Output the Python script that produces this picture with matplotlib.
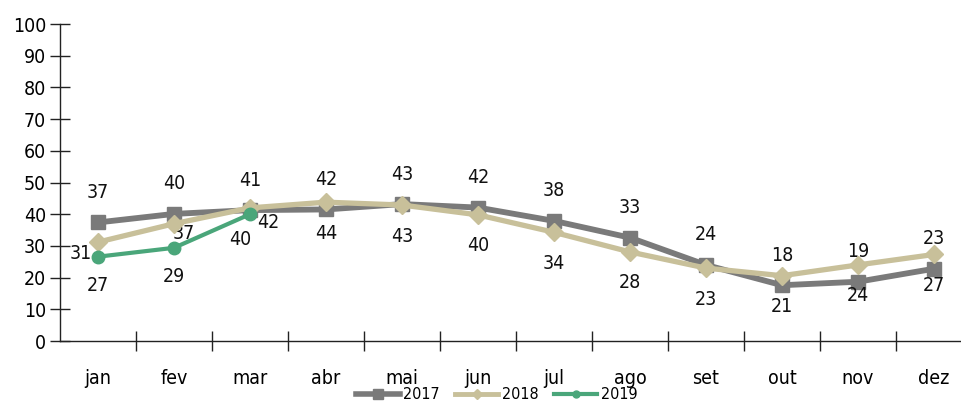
import matplotlib
matplotlib.use("Agg")
import matplotlib.pyplot as plt
from matplotlib.lines import Line2D

plt.rcParams['font.family'] = ['DejaVu Sans']
plt.rcParams['font.stretch'] = 'condensed'

months = ["jan", "fev", "mar", "abr", "mai", "jun", "jul", "ago", "set", "out", "nov", "dez"]
v2017 = [37.4, 40.1, 41.3, 41.5, 43.2, 42.1, 37.9, 32.6, 24.0, 17.6, 18.7, 22.8]
v2018 = [31.2, 37.0, 42.0, 43.8, 42.9, 39.8, 34.3, 28.1, 23.0, 20.6, 24.0, 27.3]
v2019 = [26.6, 29.4, 40.0]
yticks = list(range(0, 101, 10))

c17 = "#7a7a7a"
c18 = "#c8c09a"
c19 = "#4aa67a"

fig = plt.figure(figsize=(9.61, 4.03), dpi=100)
ax = fig.add_axes([0.0624, 0.1538, 0.949, 0.7866])

x17 = range(len(v2017))
x18 = range(len(v2018))
x19 = range(len(v2019))
ax.plot(x17, v2017, color=c17, lw=4.2, marker="s", ms=10.5, zorder=3)
ax.plot(x18, v2018, color=c18, lw=3.8, marker="D", ms=9, zorder=4)
ax.plot(x19, v2019, color=c19, lw=3, marker="o", ms=9, zorder=5)

fs = 14
for i, v in enumerate(v2017):
    ax.annotate(f"{round(v)}", (i, v), xytext=(0, 30), textcoords="offset pixels",
                ha="center", va="center", fontsize=fs, color="#111111")

off18 = {0: (-17, -11), 1: (10, -10), 2: (18, -15)}
for i, v in enumerate(v2018):
    dx, dy = off18.get(i, (0, -31))
    ax.annotate(f"{round(v)}", (i, v), xytext=(dx, dy), textcoords="offset pixels",
                ha="center", va="center", fontsize=fs, color="#111111")

off19 = {2: (-10, -25)}
for i, v in enumerate(v2019):
    dx, dy = off19.get(i, (0, -29))
    ax.annotate(f"{round(v)}", (i, v), xytext=(dx, dy), textcoords="offset pixels",
                ha="center", va="center", fontsize=fs, color="#111111")

ax.set_xlim(-0.5, 11.5)
ax.set_ylim(0, 100)
ax.set_yticks(yticks)
ax.set_yticklabels([str(t) for t in yticks], fontsize=fs)
ax.set_xticks(range(len(months)))
ax.set_xticklabels(months, fontsize=fs)
ax.set_xticks([i + 0.5 for i in range(len(months) - 1)], minor=True)
ax.tick_params(axis="x", which="major", length=0, pad=20)
ax.tick_params(axis="x", which="minor", direction="inout", length=15, width=1, color="#222222")
ax.tick_params(axis="y", direction="inout", length=14, width=1, color="#222222", pad=3)

for s in ["top", "right"]:
    ax.spines[s].set_visible(False)
for s in ["left", "bottom"]:
    ax.spines[s].set_color("#222222")
    ax.spines[s].set_linewidth(1)

handles = [
    Line2D([], [], color=c17, lw=4, marker="s", ms=7),
    Line2D([], [], color=c18, lw=3.5, marker="D", ms=5),
    Line2D([], [], color=c19, lw=3, marker="o", ms=5),
]
fig.legend(handles, ["2017", "2018", "2019"], loc="center", bbox_to_anchor=(0.517, 0.02),
           ncol=3, frameon=False, fontsize=11.5, handlelength=2.7, columnspacing=1.0,
           handletextpad=0.2, borderpad=0)

fig.savefig("out.png", dpi=100)
